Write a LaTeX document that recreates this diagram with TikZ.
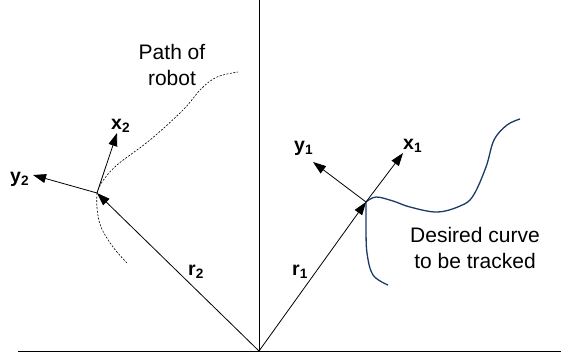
\documentclass[tikz,border=0pt]{standalone}
\usepackage{fontspec}
\setmainfont{Liberation Sans}
\usetikzlibrary{arrows.meta}
\definecolor{curvenavy}{HTML}{1B3A68}
\tikzset{
  axisline/.style={line width=0.8pt, black},
  vecarrow/.style={line width=0.8pt, -{Triangle[length=13pt,width=9pt]}},
  veclabel/.style={inner sep=0pt, anchor=base west, font=\fontsize{19.5}{23}\selectfont\bfseries},
  plaintext/.style={inner sep=0pt, align=center, font=\fontsize{21}{26.5}\selectfont},
  robotpath/.style={line width=0.6pt, dash pattern=on 2pt off 1.5pt},
  desired/.style={line width=1.3pt, curvenavy}
}
\begin{document}
\begin{tikzpicture}[x=1pt,y=-1pt]
\useasboundingbox (0,0) rectangle (561,360);
% axes
\coordinate (O) at (259,351);
\coordinate (AL) at (18,351);
\coordinate (AR) at (561,351);
\coordinate (AT) at (259,0);
\draw[axisline] (AL) -- (AR);
\draw[axisline] (O) -- (AT);
% frame points
\coordinate (P2) at (97,193);
\coordinate (P1) at (366,202);
\coordinate (X2) at (117,133);
\coordinate (Y2) at (33,175);
\coordinate (X1) at (403,153);
\coordinate (Y1) at (313,162);
% path of robot
\draw[robotpath] plot[smooth, tension=0.6] coordinates {(127,263) (113,247) (101,227) (97,208) (P2)};
\draw[robotpath] plot[smooth, tension=0.6] coordinates {(P2) (102,182) (117,165) (150,140) (183,110) (201,89) (217,77) (238,72)};
% desired curve
\draw[desired] plot[smooth, tension=0.6] coordinates {(388,285) (373,275) (367,253) (366,227) (P1)};
\draw[desired] plot[smooth, tension=0.6] coordinates {(P1) (376,197) (393,201) (410,207) (437,212) (460,206) (473,196) (486,167) (494,140) (507,125) (520,119)};
% vectors
\draw[vecarrow] (O) -- (P2);
\draw[vecarrow] (O) -- (P1);
\draw[vecarrow] (P2) -- (X2);
\draw[vecarrow] (P2) -- (Y2);
\draw[vecarrow] (P1) -- (X1);
\draw[vecarrow] (P1) -- (Y1);
% labels
\node[veclabel] (lx2) at (111,129) {x\textsubscript{2}};
\node[veclabel] (ly2) at (10,182) {y\textsubscript{2}};
\node[veclabel] (lx1) at (403,149) {x\textsubscript{1}};
\node[veclabel] (ly1) at (294,151) {y\textsubscript{1}};
\node[veclabel] (lr2) at (188,275) {r\textsubscript{2}};
\node[veclabel] (lr1) at (292,275) {r\textsubscript{1}};
\node[plaintext] (path) at (172,65) {Path of\\robot};
\node[plaintext] (des) at (475,248) {Desired curve\\to be tracked};
\end{tikzpicture}
\end{document}
